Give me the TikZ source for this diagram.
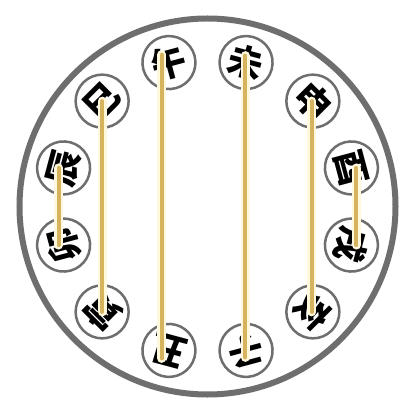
\documentclass[tikz,border=0pt]{standalone}
\usepackage{fontspec}
\usepackage{xcolor}
\newfontfamily\cjk{Noto Sans CJK SC}
\definecolor{ringgray}{HTML}{6E6E6E}
\definecolor{goldline}{HTML}{D5B35F}
\definecolor{glowline}{HTML}{FFF8DC}

\begin{document}
\begin{tikzpicture}[x=1pt,y=1pt,
		branch/.style={circle,draw=ringgray,line width=2.5pt,fill=white,minimum size=53pt,inner sep=0pt,font=\cjk\bfseries\fontsize{35}{35}\selectfont},
		halo/.style={draw=glowline,line width=9pt,line cap=round},
		pair/.style={draw=goldline,line width=4pt,line cap=round}]
		\useasboundingbox [fill=white] (-207.5,-199.5) rectangle (206.5,206.5);
		\begin{scope}
			\draw [color=ringgray,line width=6pt,fill=white] (0,0) circle (188);
			\foreach \a/\n/\c in {105/wu/午,75/wei/未,45/shen/申,15/you/酉,-15/xu/戌,-45/hai/亥,-75/zi/子,-105/chou/丑,-135/yin/寅,-165/mao/卯,165/chen/辰,135/si/巳}
				\node [branch,rotate=\a-90] (\n) at (\a:149) {\c};
		\end{scope}
		%
		\begin{scope}
			\foreach \p/\q/\dx/\ext in {wu/chou/-7/8,wei/zi/-1/7,si/yin/0/0,shen/hai/-1/0,chen/mao/-5/0,you/xu/5/0}
				\draw [halo,shorten <=-\ext pt,shorten >=-\ext pt] ([xshift=\dx pt]\p.center) -- ([xshift=\dx pt]\q.center);
			\foreach \p/\q/\dx/\ext in {wu/chou/-7/8,wei/zi/-1/7,si/yin/0/0,shen/hai/-1/0,chen/mao/-5/0,you/xu/5/0}
				\draw [pair,shorten <=-\ext pt,shorten >=-\ext pt] ([xshift=\dx pt]\p.center) -- ([xshift=\dx pt]\q.center);
		\end{scope}
	\end{tikzpicture}
\end{document}
